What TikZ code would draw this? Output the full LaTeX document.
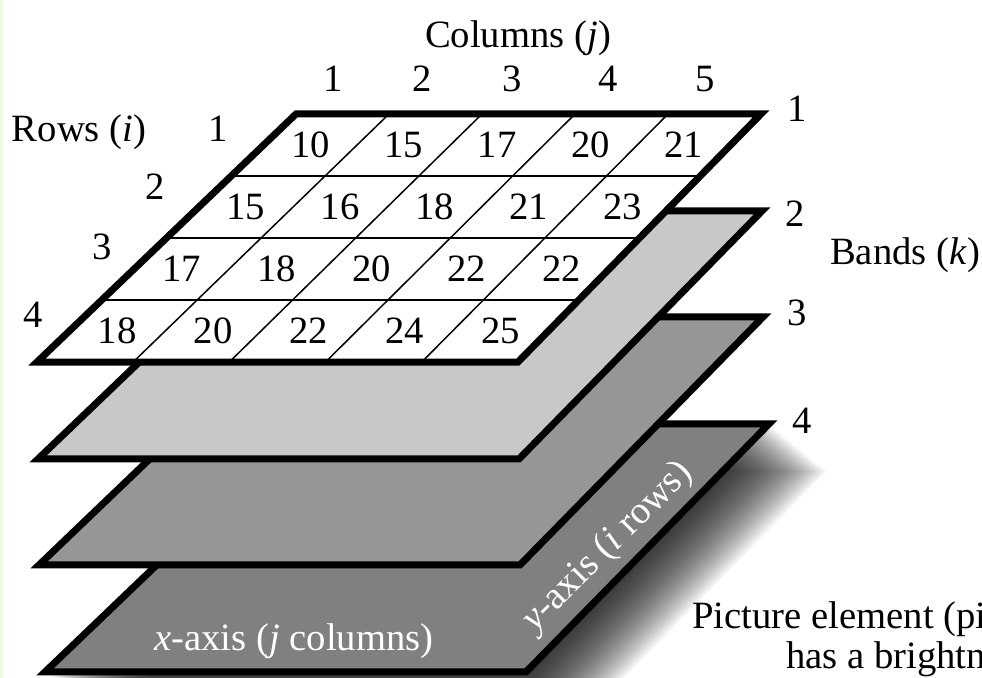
\documentclass[tikz,border=0pt]{standalone}
\usepackage{fontspec}
\setmainfont{Liberation Serif}
\usetikzlibrary{calc}

\definecolor{lightband}{RGB}{200,200,200}
\definecolor{midband}{RGB}{150,150,150}
\definecolor{darkband}{RGB}{128,128,128}
\definecolor{paleleaf}{RGB}{238,252,230}

\tikzset{
  bandedge/.style={line width=0.14cm, line join=miter},
  cellline/.style={line width=0.03cm},
  txt/.style={inner sep=0pt, font=\fontsize{22}{26}\selectfont},
  basetxt/.style={txt, anchor=base},
}

\begin{document}
\begin{tikzpicture}[x=0.02cm, y=-0.02cm]
\useasboundingbox (0,0) rectangle (982,678);
\fill[paleleaf] (0,0) rectangle (3,678);

% soft shadow under band 4
\foreach \s in {1,...,26}
  \fill[black, opacity=0.055, xshift={(0.16+0.044*\s)*1cm}, yshift={-(6.2+0.036*\s)*1cm}] (296,114) -- (761,114) -- (518,362) -- (37,362) -- cycle;

% bands 4, 3, 2
\draw[bandedge, fill=darkband, xshift=0.16cm, yshift=-6.2cm] (296,114) -- (761,114) -- (518,362) -- (37,362) -- cycle;
\draw[bandedge, fill=midband, xshift=0.04cm, yshift=-4.06cm] (296,114) -- (761,114) -- (518,362) -- (37,362) -- cycle;
\draw[bandedge, fill=lightband, xshift=0.02cm, yshift=-1.94cm] (296,114) -- (761,114) -- (518,362) -- (37,362) -- cycle;

% band 1 with its cells
\coordinate (tl) at (296,114);
\coordinate (tr) at (761,114);
\coordinate (br) at (518,362);
\coordinate (bl) at (37,362);
\fill[white] (tl) -- (tr) -- (br) -- (bl) -- cycle;
\foreach \c in {1,...,4}
  \draw[cellline] ($(tl)!\c/5!(tr)$) -- ($(bl)!\c/5!(br)$);
\foreach \r in {1,2,3}
  \draw[cellline] ($(tl)!\r/4!(bl)$) -- ($(tr)!\r/4!(br)$);
\draw[bandedge] (tl) -- (tr) -- (br) -- (bl) -- cycle;

\foreach \row [count=\r] in {{10,15,17,20,21},{15,16,18,21,23},{17,18,20,22,22},{18,20,22,24,25}} {
  \foreach \val [count=\c] in \row {
    \pgfmathsetmacro\u{(\c-0.5)/5}
    \pgfmathsetmacro\w{(\r-0.5)/4}
    \coordinate (top) at ($(tl)!\u!(tr)$);
    \coordinate (bot) at ($(bl)!\u!(br)$);
    \node[txt] (cell\r\c) at ($(top)!\w!(bot)$) {\val};
  }
}

% labels
\node[basetxt] (colhead) at (518,48) {Columns (\textit{j})};
\foreach \x [count=\n] in {333,422,512,608,705}
  \node[basetxt] (col\n) at (\x,92) {\n};
\node[basetxt] (rowhead) at (79,142) {Rows (\textit{i})};
\foreach \x/\y [count=\n] in {218/142,155/200,102/260,33/327}
  \node[basetxt] (row\n) at (\x,\y) {\n};
\foreach \x/\y [count=\n] in {797/122,795/227,797/325,802/433}
  \node[basetxt] (bandno\n) at (\x,\y) {\n};
\node[basetxt] (bandhead) at (905,265) {Bands (\textit{k})};
\node[basetxt, white] (xaxis) at (294,650) {\textit{x}-axis (\textit{j} columns)};
\node[txt, white, rotate=45] (yaxis) at (608,547) {\textit{y}-axis (\textit{i} rows)};
\node[basetxt, anchor=base west] (pixel) at (692,628) {Picture element (pi};
\node[basetxt, anchor=base west] (bright) at (786,668) {has a brightn};
\end{tikzpicture}
\end{document}
